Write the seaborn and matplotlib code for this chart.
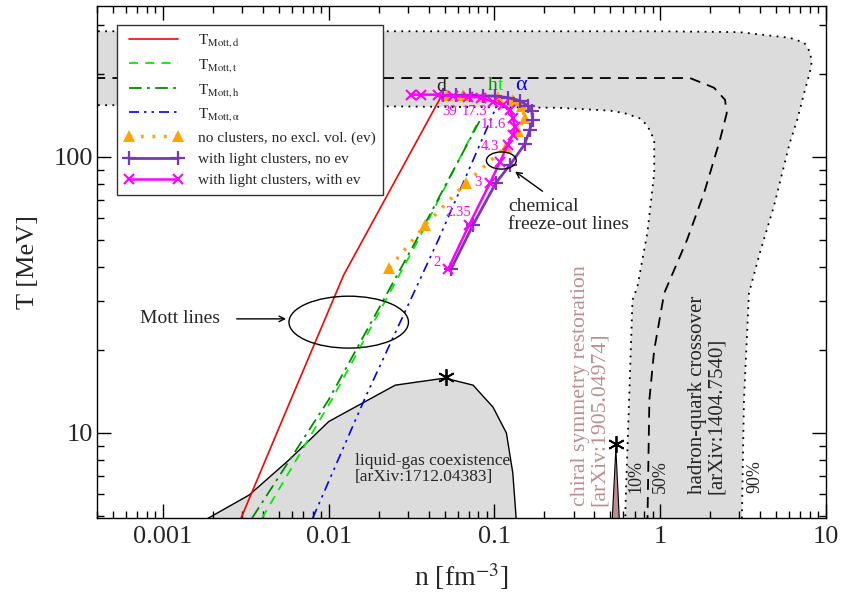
import numpy as np
import pandas as pd
import matplotlib
matplotlib.use("Agg")
import matplotlib.pyplot as plt
import seaborn as sns
from matplotlib.patches import Ellipse
from matplotlib.ticker import FixedLocator, FixedFormatter, LogLocator, NullFormatter

# ---------------- data ----------------
# Mott lines  (n in fm^-3, T in MeV)
n_mott_d = [0.00296, 0.00591, 0.0123, 0.0478]
T_mott_d = [4.92, 13.2, 37.3, 166]
n_mott_t = [0.00396, 0.01043, 0.0347, 0.0807]
T_mott_t = [4.92, 13.2, 50.0, 136]
n_mott_h = [0.00345, 0.0100, 0.0338, 0.083]
T_mott_h = [4.92, 13.2, 50.0, 138]
n_mott_a = [0.00801, 0.01667, 0.0458, 0.1007]
T_mott_a = [4.92, 13.5, 50.0, 148]

# chemical freeze-out lines
n_fo_noclu = [0.0232, 0.0383, 0.0675, 0.117, 0.138, 0.152, 0.146, 0.129, 0.105, 0.0853, 0.0647, 0.0519]
T_fo_noclu = [39.6, 56.7, 80.5, 108.7, 124, 138, 153, 161, 165, 166, 168, 168]
n_fo_clu = [0.0548, 0.0743, 0.102, 0.124, 0.152, 0.163, 0.170, 0.168, 0.159, 0.142, 0.120, 0.1006, 0.0853, 0.0713, 0.0587, 0.049]
T_fo_clu = [39.3, 56.7, 80.5, 93.5, 111, 125, 136, 146, 153, 160, 164, 166, 166, 167, 167, 167]
n_fo_clu_ev = [0.0526, 0.0703, 0.094, 0.108, 0.120, 0.129, 0.133, 0.129, 0.124, 0.1125, 0.098, 0.083, 0.0693, 0.0563, 0.0458, 0.0362, 0.0315]
T_fo_clu_ev = [39.3, 56.7, 80.5, 95.9, 110.5, 120, 128.5, 138, 148, 154, 158.5, 164, 165, 166, 168, 168, 168]
# sqrt(s) labels on the magenta line
lab_sqrts = ["39", "17.3", "11.6", "4.3", "3", "2.35", "2"]
lab_n = [0.0538, 0.076, 0.098, 0.0935, 0.0796, 0.0604, 0.0452]
lab_T = [146, 146, 130.6, 108.7, 80.5, 62.8, 41.3]

# liquid-gas coexistence region
n_lg = [0.00175, 0.00331, 0.00575, 0.0100, 0.0252, 0.0502, 0.0743, 0.098, 0.118, 0.129, 0.1355]
T_lg = [4.8, 5.96, 7.98, 11.0, 14.9, 15.8, 14.9, 12.4, 10.0, 7.16, 4.8]
n_lg_cp, T_lg_cp = 0.051, 16.0

# hadron-quark crossover band (90 %, 10 %, 50 %)
n_hq90 = [3e-4, 1.0, 3.0, 6.04, 7.4, 8.0, 8.2, 8.0, 7.4, 6.7, 6.04, 4.84, 3.99, 3.43, 3.2, 3.1]
T_hq90 = [285, 285, 283, 270, 259, 240, 221, 203, 171, 136, 112, 65.9, 44.9, 32.1, 13.2, 4.5]
n_hq10 = [3e-4, 0.01, 0.24, 0.5, 0.608, 0.75, 0.836, 0.92, 0.92, 0.836, 0.728, 0.68, 0.617, 0.615]
T_hq10 = [154, 153, 150.6, 147, 144, 138, 130, 115, 87.5, 53.1, 33.8, 30.3, 5.4, 4.5]
n_hq50 = [3e-4, 1.0, 1.51, 2.11, 2.46, 2.52, 2.29, 1.84, 1.45, 1.057, 0.92, 0.86, 0.836]
T_hq50 = [193, 193, 193, 178, 161, 144, 115, 74.1, 50, 32.1, 20, 13.2, 4.5]

# chiral symmetry restoration spike
n_chi = [0.51, 0.54, 0.57]
T_chi = [4.5, 8.8, 4.5]
n_chi_cp, T_chi_cp = 0.54, 9.1

xticks = [0.001, 0.01, 0.1, 1, 10]
xticklabels = ["0.001", "0.01", "0.1", "1", "10"]
yticks = [10, 100]
yticklabels = ["10", "100"]

# ---------------- style ----------------
sns.set_style("ticks")
plt.rcParams["font.family"] = ["Liberation Serif", "DejaVu Serif"]
plt.rcParams["mathtext.fontset"] = "stix"
plt.rcParams["axes.linewidth"] = 1.0

fig = plt.figure(figsize=(8.45, 5.97), dpi=100)
ax = fig.add_axes([0.1148, 0.1323, 0.8627, 0.8577])
ax.set_xscale("log")
ax.set_yscale("log")
ax.set_xlim(4.0e-4, 10)
ax.set_ylim(4.92, 352)

gray = "#dcdcdc"

# crossover band
band_n = n_hq90 + n_hq10[::-1]
band_T = T_hq90 + T_hq10[::-1]
ax.fill(band_n, band_T, color=gray, lw=0, zorder=0)
ax.plot(n_hq90, T_hq90, color="k", lw=1.3, ls=(0, (1, 3)), zorder=1)
ax.plot(n_hq10, T_hq10, color="k", lw=1.3, ls=(0, (1, 3)), zorder=1)
ax.plot(n_hq50, T_hq50, color="k", lw=1.3, ls=(0, (6, 4)), zorder=1)

# liquid-gas
ax.fill(n_lg, T_lg, facecolor=gray, edgecolor="k", lw=1.0, zorder=0.5)
# chiral spike
ax.fill(n_chi, T_chi, facecolor="#bc8f8f", edgecolor="k", lw=0.8, zorder=0.5)


def line(n, T, **kw):
    df = pd.DataFrame({"n": n, "T": T})
    sns.lineplot(data=df, x="n", y="T", sort=False, estimator=None, ax=ax, **kw)


line(n_mott_d, T_mott_d, color="#ff0000", lw=1.2, label=r"T$_{\mathrm{Mott,d}}$")
line(n_mott_t, T_mott_t, color="#00ee00", lw=1.3, linestyle=(0, (5, 4)), label=r"T$_{\mathrm{Mott,t}}$")
line(n_mott_h, T_mott_h, color="#008c00", lw=1.3, linestyle=(0, (7, 3, 1.5, 3)), label=r"T$_{\mathrm{Mott,h}}$")
line(n_mott_a, T_mott_a, color="#0000ff", lw=1.2, linestyle=(0, (6, 3, 1.5, 3, 1.5, 3)),
     label=r"T$_{\mathrm{Mott,α}}$")
line(n_fo_noclu, T_fo_noclu, color="#ffa500", lw=2.5, linestyle=(0, (0.8, 2.5)), marker="^",
     markersize=9, mec="#ffa500", mew=0, label="no clusters, no excl. vol. (ev)")
line(n_fo_clu, T_fo_clu, color="#7a35c0", lw=2.0, marker="+", markersize=10, mec="#7a35c0", mew=1.6,
     label="with light clusters, no ev")
line(n_fo_clu_ev, T_fo_clu_ev, color="#ff00ff", lw=1.8, marker="x", markersize=7, mec="#ff00ff", mew=1.5,
     label="with light clusters, with ev")

# critical points
ax.plot([n_lg_cp], [T_lg_cp], marker=(6, 2, 0), ms=12, mew=1.3, color="k", zorder=5)
ax.plot([n_chi_cp], [T_chi_cp], marker=(6, 2, 0), ms=12, mew=1.3, color="k", zorder=5)

# magenta sqrt(s) labels
for s, x, y in zip(lab_sqrts, lab_n, lab_T):
    ax.text(x, y, s, color="#ff00ff", fontsize=10.5, ha="center", va="center", zorder=6)

# cluster labels
ax.text(0.0478, 180, "d", fontsize=14, ha="center", va="center")
ax.text(0.105, 182, "h", fontsize=14, ha="right", va="center", color="#008c00")
ax.text(0.105, 182, "t", fontsize=14, ha="left", va="center", color="#00ee00")
ax.text(0.144, 182, "α", fontsize=16, ha="center", va="center", color="#0000ff")

# annotations
ax.text(0.000723, 25.9, "Mott lines", fontsize=14, ha="left", va="center")
ax.annotate("", xy=(0.00575, 25.9), xytext=(0.00268, 25.9),
            arrowprops=dict(arrowstyle="->", lw=1.0, color="k"))
ax.text(0.1205, 61.4, "chemical\nfreeze-out lines", fontsize=14, ha="left", va="center", linespacing=1.1)
ax.annotate("", xy=(0.129, 89.7), xytext=(0.201, 74.1),
            arrowprops=dict(arrowstyle="->", lw=1.0, color="k"))
ax.text(0.01445, 7.41, "liquid-gas coexistence\n[arXiv:1712.04383]", fontsize=12.5,
        ha="left", va="center", linespacing=1.0)
ax.text(1.91, 6.01, "hadron-quark crossover\n[arXiv:1404.7540]", fontsize=15, rotation=90,
        ha="center", va="bottom", multialignment="left", linespacing=1.0)
ax.text(0.375, 5.45, "chiral symmetry restoration\n[arXiv:1905.04974]", fontsize=15.7, rotation=90,
        ha="center", va="bottom", multialignment="left", linespacing=1.0, color="#bc8f8f")
for s, x in zip(["10%", "50%", "90%"], [0.718, 1.0, 3.72]):
    ax.text(x, 6.07, s, fontsize=13, rotation=90, ha="center", va="bottom")


def log_ellipse(n0, T0, dec_n, dec_T):
    x0, y0 = ax.transAxes.inverted().transform(ax.transData.transform((n0, T0)))
    lx = np.log10(ax.get_xlim())
    ly = np.log10(ax.get_ylim())
    ax.add_patch(Ellipse((x0, y0), dec_n / (lx[1] - lx[0]), dec_T / (ly[1] - ly[0]),
                         transform=ax.transAxes, fill=False, lw=1.0, ec="k", zorder=6))


log_ellipse(0.0132, 25.2, 0.721, 0.188)
log_ellipse(0.110, 97, 0.18, 0.062)

# axes / ticks
ax.xaxis.set_major_locator(FixedLocator(xticks))
ax.xaxis.set_major_formatter(FixedFormatter(xticklabels))
ax.yaxis.set_major_locator(FixedLocator(yticks))
ax.yaxis.set_major_formatter(FixedFormatter(yticklabels))
ax.xaxis.set_minor_locator(LogLocator(base=10, subs=np.arange(2, 10), numticks=20))
ax.yaxis.set_minor_locator(LogLocator(base=10, subs=np.arange(2, 10), numticks=20))
ax.xaxis.set_minor_formatter(NullFormatter())
ax.yaxis.set_minor_formatter(NullFormatter())
ax.tick_params(which="both", direction="in", top=True, right=True, color="k", width=1.0)
ax.tick_params(which="major", length=10, labelsize=19, pad=6)
ax.tick_params(which="minor", length=5)
ax.tick_params(axis="y", which="major", pad=3)
for sp in ax.spines.values():
    sp.set_color("k")
    sp.set_linewidth(1.0)

ax.set_xlabel(r"n [fm$^{-3}$]", fontsize=20, labelpad=9)
ax.set_ylabel("T [MeV]", fontsize=19, labelpad=10)

leg = ax.legend(loc="upper left", bbox_to_anchor=(0.0274, 0.963), borderaxespad=0, fontsize=11,
                numpoints=2, handlelength=3.8, handletextpad=1.0, labelspacing=0.5,
                frameon=True, fancybox=False, framealpha=1, edgecolor="#333333", borderpad=0.5)
leg.get_frame().set_linewidth(1.0)

fig.savefig("out.png", dpi=100)
